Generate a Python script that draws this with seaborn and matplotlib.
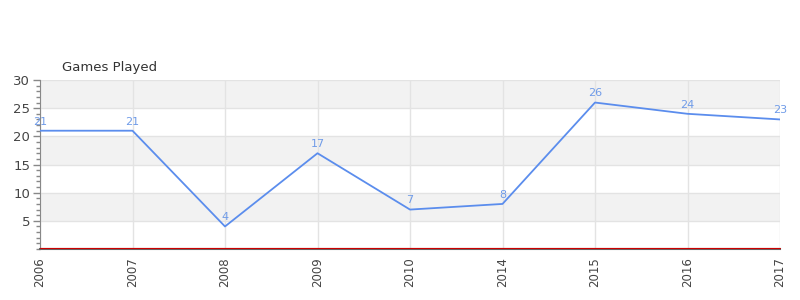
import matplotlib
matplotlib.use("Agg")
import matplotlib.pyplot as plt
import seaborn as sns
import pandas as pd
import numpy as np
from matplotlib.ticker import MultipleLocator, FixedLocator

years = ["2006", "2007", "2008", "2009", "2010", "2014", "2015", "2016", "2017"]
games = [21, 21, 4, 17, 7, 8, 26, 24, 23]

df = pd.DataFrame({"pos": np.arange(len(years)), "games": games})

sns.set_style("white")
plt.rcParams["font.family"] = ["DejaVu Sans"]

fig = plt.figure(figsize=(8, 3), dpi=100)
ax = fig.add_axes([0.05, 0.17, 0.925, 0.5633])

# alternating bands
for lo in (5, 15, 25):
    ax.axhspan(lo, lo + 5, color="#f2f2f2", zorder=0, lw=0)

line_color = "#5b8ded"
sns.lineplot(data=df, x="pos", y="games", ax=ax, color=line_color, lw=1.3, zorder=3)

for x, y in zip(df["pos"], df["games"]):
    ax.annotate(str(y), (x, y), xytext=(0, 3), textcoords="offset points",
                ha="center", va="bottom", fontsize=8, color="#6f9be8", zorder=4)

ax.set_xlim(0, len(years) - 1)
ax.set_ylim(0, 30)
ax.set_xticks(df["pos"])
ax.set_xticklabels(years, rotation=90, fontsize=8.5, color="#444444")
ax.yaxis.set_major_locator(FixedLocator([5, 10, 15, 20, 25, 30]))
ax.yaxis.set_minor_locator(MultipleLocator(1))
ax.tick_params(axis="y", which="both", left=True)
ax.tick_params(axis="y", which="major", length=5, width=1, color="#888888", labelsize=9.5, labelcolor="#444444", pad=2)
ax.tick_params(axis="y", which="minor", length=3, width=1, color="#888888")
ax.tick_params(axis="x", length=0, pad=6)

ax.grid(True, axis="both", which="major", color="#e3e3e3", lw=1, zorder=1)
ax.set_axisbelow(True)

for s in ("top", "right"):
    ax.spines[s].set_visible(False)
ax.spines["left"].set_color("#888888")
ax.spines["bottom"].set_color("#666666")
ax.spines["bottom"].set_linewidth(1.5)
ax.axhline(0.2, color="#cc0000", lw=0.8, zorder=5, clip_on=False)

ax.set_xlabel("")
ax.set_ylabel("")
fig.text(62 / 800, 1 - 67 / 300, "Games Played", fontsize=9.5, color="#333333", ha="left", va="center")

fig.savefig("out.png", dpi=100, facecolor="white")
